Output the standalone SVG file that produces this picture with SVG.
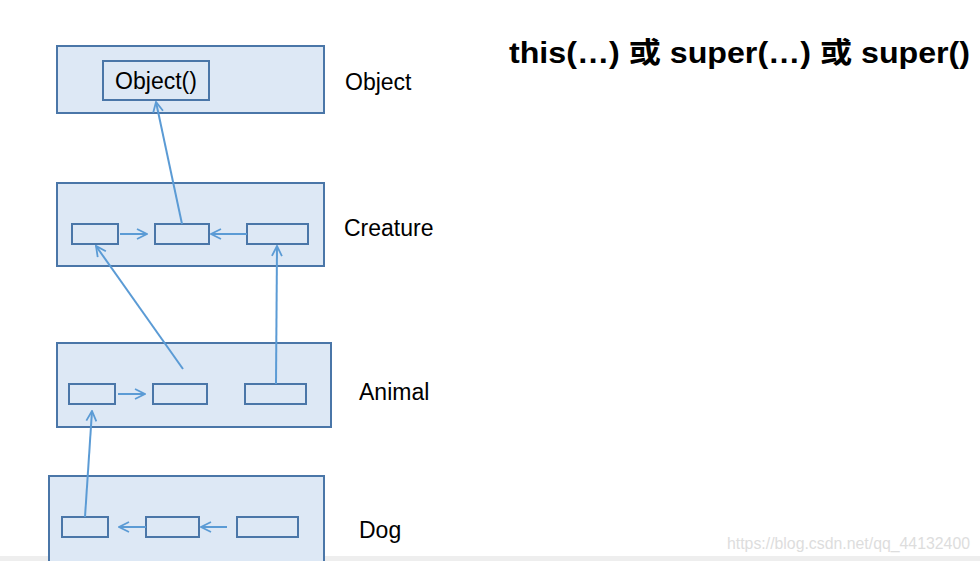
<svg xmlns="http://www.w3.org/2000/svg" width="980" height="561" viewBox="0 0 980 561">
<style>
.big{fill:#dde8f5;stroke:#4a76a8;stroke-width:2}
.sm{fill:#dde8f5;stroke:#4a76a8;stroke-width:2}
.lbl{font-family:"Liberation Sans",Arial,sans-serif;font-size:23px;fill:#000}
.c{stroke:#5b9bd5;stroke-width:2;fill:none;marker-end:url(#a)}
</style>
<defs><marker id="a" viewBox="0 0 12 12" refX="11" refY="6" markerWidth="12" markerHeight="12" markerUnits="userSpaceOnUse" orient="auto"><path d="M1 1L11 6L1 11" fill="none" stroke="#5b9bd5" stroke-width="1.8"/></marker></defs>
<rect width="980" height="561" fill="#fff"/>
<rect x="0" y="556" width="980" height="5" fill="#eeeeee"/>
<text x="509" y="63" font-family="'Liberation Sans','Noto Sans CJK SC',sans-serif" font-size="29" font-weight="bold" textLength="461" lengthAdjust="spacingAndGlyphs">this(…) 或 super(…) 或 super()</text>
<text x="727" y="549" font-family="'Liberation Sans',Arial,sans-serif" font-size="16" fill="#dddddd" textLength="243" lengthAdjust="spacingAndGlyphs">https://blog.csdn.net/qq_44132400</text>
<g id="object"><rect class="big" x="57" y="46" width="267" height="67"/><rect class="sm" x="103" y="61" width="106" height="39"/><text class="lbl" x="156" y="89" text-anchor="middle">Object()</text><text class="lbl" x="345" y="90">Object</text></g>
<g id="creature"><rect class="big" x="57" y="183" width="267" height="83"/><rect class="sm" x="72" y="224" width="46" height="20"/><rect class="sm" x="155" y="224" width="54" height="20"/><rect class="sm" x="247" y="224" width="61" height="20"/><text class="lbl" x="344" y="236">Creature</text></g>
<g id="animal"><rect class="big" x="57" y="343" width="274" height="84"/><rect class="sm" x="69" y="384" width="46" height="20"/><rect class="sm" x="153" y="384" width="54" height="20"/><rect class="sm" x="245" y="384" width="61" height="20"/><text class="lbl" x="359" y="400">Animal</text></g>
<g id="dog"><rect class="big" x="49" y="476" width="275" height="90"/><rect class="sm" x="62" y="517" width="46" height="20"/><rect class="sm" x="146" y="517" width="53" height="20"/><rect class="sm" x="237" y="517" width="61" height="20"/><text class="lbl" x="359" y="538">Dog</text></g>
<g id="connectors">
<line class="c" x1="182" y1="224" x2="156" y2="102"/>
<line class="c" x1="120" y1="234" x2="147" y2="234"/>
<line class="c" x1="247" y1="234" x2="211" y2="234"/>
<line class="c" x1="183" y1="369" x2="96" y2="246"/>
<line class="c" x1="276" y1="384" x2="277" y2="246"/>
<line class="c" x1="118" y1="394" x2="145" y2="394"/>
<line class="c" x1="85" y1="517" x2="92" y2="411"/>
<line class="c" x1="146" y1="527" x2="119" y2="527"/>
<line class="c" x1="227" y1="527" x2="201" y2="527"/>
</g>
</svg>
